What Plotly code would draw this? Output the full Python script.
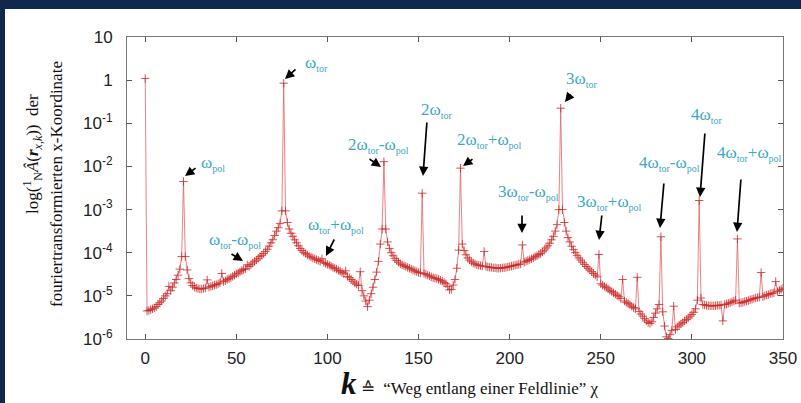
import plotly.graph_objects as go

# ---------------- data ----------------
k_values = list(range(0, 351))

# log10 of the amplitude for k = 0 .. 350
log_amplitude = [
    0.04, -5.35, -5.34, -5.32, -5.30, -5.28, -5.25, -5.20, -5.16, -5.12,
    -5.06, -5.00, -4.95, -4.78, -4.88, -4.80, -4.70, -4.62, -4.52, -4.38,
    -4.09, -2.35, -4.09, -4.40, -4.60, -4.70, -4.76, -4.80, -4.82, -4.83,
    -4.84, -4.84, -4.83, -4.82, -4.63, -4.80, -4.78, -4.77, -4.75, -4.74,
    -4.72, -4.70, -4.48, -4.67, -4.65, -4.62, -4.60, -4.58, -4.55, -4.52,
    -4.49, -4.47, -4.44, -4.41, -4.39, -4.37, -4.28, -4.32, -4.28, -4.24,
    -4.20, -4.17, -4.13, -4.09, -4.06, -4.02, -3.97, -3.92, -3.85, -3.77,
    -3.70, -3.60, -3.50, -3.42, -3.32, -3.03, -0.07, -3.03, -3.30, -3.45,
    -3.55, -3.62, -3.70, -3.77, -3.84, -3.90, -3.95, -3.99, -4.02, -4.05,
    -4.08, -4.10, -4.12, -4.14, -4.16, -4.18, -4.20, -4.14, -4.23, -4.25,
    -4.27, -4.29, -4.31, -4.34, -4.36, -4.38, -4.41, -4.43, -4.46, -4.49,
    -4.42, -4.55, -4.58, -4.62, -4.66, -4.70, -4.73, -4.76, -4.44, -4.88,
    -5.00, -5.12, -5.25, -5.10, -4.95, -4.80, -4.62, -4.45, -4.20, -3.80,
    -3.45, -1.89, -3.45, -3.75, -3.90, -4.00, -4.07, -4.13, -4.18, -4.22,
    -4.26, -4.28, -4.30, -4.32, -4.34, -4.36, -4.38, -4.40, -4.42, -4.44,
    -4.46, -4.47, -2.62, -4.48, -4.50, -4.52, -4.54, -4.56, -4.58, -4.59,
    -4.60, -4.62, -4.64, -4.66, -4.69, -4.72, -4.78, -4.86, -4.85, -4.75,
    -4.62, -4.36, -3.94, -2.04, -3.80, -3.95, -4.05, -4.12, -4.17, -4.21,
    -4.24, -4.26, -4.28, -4.29, -4.30, -4.31, -3.97, -4.32, -4.33, -4.34,
    -4.34, -4.35, -4.35, -4.36, -4.36, -4.36, -4.35, -4.35, -4.34, -4.33,
    -4.32, -4.31, -4.30, -4.29, -4.28, -4.27, -4.26, -3.82, -4.22, -4.20,
    -4.18, -4.16, -4.14, -4.12, -4.09, -4.07, -4.04, -4.02, -3.98, -3.94,
    -3.89, -3.84, -3.78, -3.70, -3.62, -3.50, -3.35, -3.00, -0.65, -3.00,
    -3.30, -3.50, -3.65, -3.75, -3.85, -3.93, -4.00, -4.06, -4.12, -4.17,
    -4.22, -4.27, -4.32, -4.36, -4.40, -4.44, -4.48, -4.52, -4.56, -4.04,
    -4.72, -4.75, -4.78, -4.81, -4.84, -4.87, -4.90, -4.93, -4.96, -4.99,
    -5.02, -5.06, -4.62, -5.12, -5.15, -5.18, -5.21, -5.24, -5.27, -5.30,
    -4.57, -5.36, -5.42, -5.47, -5.53, -5.58, -5.62, -5.64, -5.60, -5.50,
    -5.40, -5.30, -5.20, -3.63, -5.37, -5.70, -5.95, -5.99, -5.90, -5.80,
    -5.24, -5.78, -5.72, -5.68, -5.65, -5.62, -5.58, -5.55, -5.51, -5.47,
    -5.43, -5.38, -5.30, -5.10, -2.79, -5.05, -5.20, -5.21, -5.22, -5.23,
    -5.23, -5.23, -5.23, -5.23, -5.22, -5.22, -5.21, -5.58, -5.20, -5.19,
    -5.17, -5.16, -5.14, -5.12, -5.10, -3.68, -5.17, -5.16, -5.15, -5.13,
    -5.12, -5.11, -5.09, -5.08, -5.06, -5.05, -5.04, -5.03, -4.46, -5.02,
    -5.00, -4.98, -4.97, -4.95, -4.94, -4.93, -4.67, -4.90, -4.87, -4.85,
    -4.82,
]

x_tick_values = [0, 50, 100, 150, 200, 250, 300, 350]
y_tick_values = [1e-6, 1e-5, 1e-4, 1e-3, 1e-2, 1e-1, 1, 10]
y_tick_labels = ["10<sup>-6</sup>", "10<sup>-5</sup>", "10<sup>-4</sup>",
                 "10<sup>-3</sup>", "10<sup>-2</sup>", "10<sup>-1</sup>", "1", "10"]

amplitude = [10 ** v for v in log_amplitude]

# ---------------- layout helpers ----------------
W, H = 801, 403
L, R, T, B = 127, 18, 37, 64
PW, PH = W - L - R, H - T - B
AXIS_BOTTOM = H - B  # pixel row of the x axis


def px(x):
    return (x - L) / PW


def py(y):
    return (AXIS_BOTTOM - y) / PH


CYAN = "#3ba7c7"
NAVY = "#10284c"
SERIF = "Liberation Serif, Times New Roman, serif"
SANS = "Liberation Sans, Arial, sans-serif"


def lab(main, sub=None, more=None):
    s = main
    if sub:
        s += "<sub><span style='font-size:10px'>%s</span></sub>" % sub
    if more:
        for m, sb in more:
            s += m + "<sub><span style='font-size:10px'>%s</span></sub>" % sb
    return s


labels = [
    (lab("ω", "pol"), 213, 163),
    (lab("ω", "tor"), 316, 63),
    (lab("2ω", "tor", [("-ω", "pol")]), 378, 145),
    (lab("2ω", "tor"), 436, 110),
    (lab("2ω", "tor", [("+ω", "pol")]), 489, 140),
    (lab("3ω", "tor"), 581, 80),
    (lab("4ω", "tor"), 706, 115),
    (lab("4ω", "tor", [("-ω", "pol")]), 669, 163),
    (lab("4ω", "tor", [("+ω", "pol")]), 749, 153),
    (lab("3ω", "tor", [("-ω", "pol")]), 528, 192),
    (lab("3ω", "tor", [("+ω", "pol")]), 609, 202),
    (lab("ω", "tor", [("-ω", "pol")]), 235, 240),
    (lab("ω", "tor", [("+ω", "pol")]), 336, 225),
]

# (head_x, head_y, tail_x, tail_y) in pixels
arrows = [
    (185, 176, 197, 167),
    (285, 79, 297, 68),
    (381, 167, 368, 158),
    (423, 176, 427, 121),
    (463, 166, 474, 158),
    (565, 102, 572, 93),
    (700, 197, 705, 132),
    (660, 228, 664, 182),
    (737, 232, 741, 178),
    (522, 233, 522, 214),
    (599, 240, 602, 214),
    (243, 261, 230, 253),
    (326, 256, 335, 238),
]

fig = go.Figure()
fig.add_trace(go.Scatter(
    x=k_values, y=amplitude, mode="lines+markers",
    line=dict(color="rgba(225,90,90,0.75)", width=1),
    marker=dict(symbol="cross-thin", size=6,
                line=dict(width=1, color="rgba(205,40,40,0.8)")),
    showlegend=False, hoverinfo="x+y",
))

annotations = []
for text, x, y in labels:
    annotations.append(dict(text=text, x=px(x), y=py(y), xref="paper", yref="paper",
                            showarrow=False, xanchor="center", yanchor="middle",
                            font=dict(family=SERIF, size=17, color=CYAN)))
for hx, hy, tx, ty in arrows:
    annotations.append(dict(text="", x=px(hx), y=py(hy), xref="paper", yref="paper",
                            ax=tx - hx, ay=ty - hy, showarrow=True,
                            arrowhead=2, arrowsize=1.1, arrowwidth=1.7,
                            arrowcolor="black", standoff=0, startstandoff=0))

# y-axis title (two lines)
annotations.append(dict(
    text="log(<sup>1</sup><sub>N</sub><i>Â</i>(<b><i>r</i></b><sub><i>x,k</i></sub>))  der",
    x=px(32), y=py(154), xref="paper", yref="paper", showarrow=False,
    textangle=-90, xanchor="center", yanchor="middle",
    font=dict(family=SERIF, size=17, color="#111")))
annotations.append(dict(
    text="fouriertransformierten x-Koordinate",
    x=px(56), y=py(184), xref="paper", yref="paper", showarrow=False,
    textangle=-90, xanchor="center", yanchor="middle",
    font=dict(family=SERIF, size=17, color="#111")))
# x-axis title
annotations.append(dict(
    text="<span style='font-size:31px'><b><i>k</i></b></span> ≙  “Weg entlang einer Feldlinie” χ",
    x=px(470), y=py(383), xref="paper", yref="paper", showarrow=False,
    xanchor="center", yanchor="middle",
    font=dict(family=SERIF, size=17, color="#111")))

fig.update_layout(
    width=W, height=H,
    margin=dict(l=L, r=R, t=T, b=B, autoexpand=False),
    paper_bgcolor="white",
    plot_bgcolor="white",
    annotations=annotations,
    shapes=[
        dict(type="rect", xref="paper", yref="paper",
             x0=px(-2), x1=px(5), y0=py(H + 2), y1=py(-2),
             fillcolor=NAVY, line=dict(width=0), layer="below"),
        dict(type="rect", xref="paper", yref="paper",
             x0=px(-2), x1=px(W + 2), y0=py(9), y1=py(-2),
             fillcolor=NAVY, line=dict(width=0), layer="below"),
    ],
)
fig.update_xaxes(
    range=[-10, 350], tickvals=x_tick_values, ticks="inside", ticklen=5,
    tickcolor="#555", showline=True, linecolor="#777", linewidth=1, mirror="ticks",
    showgrid=False, zeroline=False, automargin=False,
    tickfont=dict(family=SANS, size=17, color="#222"), ticklabelstandoff=4,
)
fig.update_yaxes(
    type="log", range=[-6, 1], tickvals=y_tick_values, ticktext=y_tick_labels,
    ticks="inside", ticklen=5, tickcolor="#555", showline=True, linecolor="#777",
    linewidth=1, mirror="ticks", showgrid=False, zeroline=False, automargin=False,
    tickfont=dict(family=SANS, size=17, color="#222"), ticklabelstandoff=10,
)

fig.write_html("out.html")
